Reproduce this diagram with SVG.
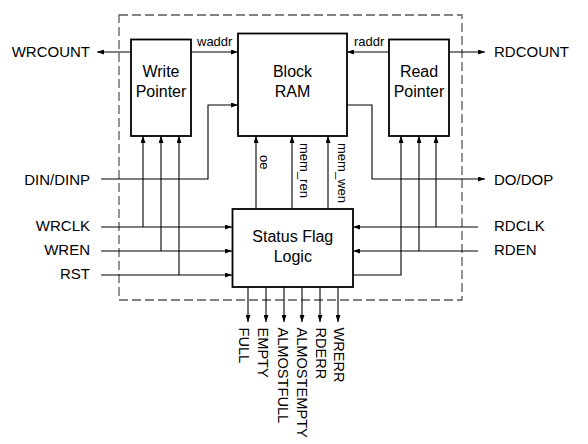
<svg xmlns="http://www.w3.org/2000/svg" width="588" height="444" viewBox="0 0 588 444">
<defs>
<marker id="arr" viewBox="0 0 7 5" refX="7" refY="2.5" markerWidth="7" markerHeight="5" markerUnits="userSpaceOnUse" orient="auto">
<path d="M0,0 L7,2.5 L0,5 z" fill="#000"/>
</marker>
</defs>
<style>
text{font-family:"Liberation Sans",Arial,Helvetica,sans-serif;fill:#000}
.box{fill:#fff;stroke:#000;stroke-width:1.8}
.bl{font-size:16px;text-anchor:middle}
.lbl{font-size:15px}
.end{text-anchor:end}
.sm{font-size:13px}
.out{font-size:14.6px}
.c{fill:none;stroke:#000;stroke-width:1.1}
.a{marker-end:url(#arr)}
.dash{fill:none;stroke:#5a5a5a;stroke-width:1.3;stroke-dasharray:9 4}
</style>
<rect id="boundary" class="dash" x="119" y="15" width="343" height="285"/>
<g id="connectors">
<path class="c a" d="M131,52 H97"/>
<path class="c a" d="M191,52 H238"/>
<path class="c a" d="M101,179 H208 V105 H238"/>
<path class="c a" d="M389,52 H347"/>
<path class="c a" d="M449,52 H485"/>
<path class="c a" d="M347,105 H372 V179 H485"/>
<path class="c a" d="M143,227 V136"/>
<path class="c a" d="M161,251 V136"/>
<path class="c a" d="M179,275 V136"/>
<path class="c a" d="M101,227 H232"/>
<path class="c a" d="M101,251 H232"/>
<path class="c a" d="M101,275 H232"/>
<path class="c a" d="M478,227 H353"/>
<path class="c a" d="M478,251 H353"/>
<path class="c a" d="M436,227 V136"/>
<path class="c a" d="M419,251 V136"/>
<path class="c a" d="M353,275 H401 V136"/>
<path class="c a" d="M256,209 V136"/>
<path class="c a" d="M292,209 V136"/>
<path class="c a" d="M328,209 V136"/>
<path class="c a" d="M248,287 V322"/>
<path class="c a" d="M266,287 V322"/>
<path class="c a" d="M284,287 V322"/>
<path class="c a" d="M302,287 V322"/>
<path class="c a" d="M320,287 V322"/>
<path class="c a" d="M338,287 V322"/>
<text class="sm" x="197" y="46">waddr</text>
<text class="sm" x="354" y="46">raddr</text>
<text class="sm" transform="translate(259.5,155) rotate(90)">oe</text>
<text class="sm" transform="translate(300,143) rotate(90)">mem_ren</text>
<text class="sm" transform="translate(337.5,143) rotate(90)">mem_wen</text>
</g>
<g id="write-pointer">
<rect class="box" x="131" y="39.5" width="60" height="96.5"/>
<text class="bl" x="161" y="77">Write</text>
<text class="bl" x="161" y="97">Pointer</text>
</g>
<g id="block-ram">
<rect class="box" x="238" y="33.5" width="109" height="102.5"/>
<text class="bl" x="292.5" y="77">Block</text>
<text class="bl" x="292.5" y="97">RAM</text>
</g>
<g id="read-pointer">
<rect class="box" x="389" y="39.5" width="60" height="96.5"/>
<text class="bl" x="419" y="77">Read</text>
<text class="bl" x="419" y="97">Pointer</text>
</g>
<g id="status-flag-logic">
<rect class="box" x="232.5" y="209" width="120.5" height="78"/>
<text class="bl" x="292.8" y="242">Status Flag</text>
<text class="bl" x="292.8" y="262">Logic</text>
</g>
<g id="left-signals">
<text class="lbl end" x="90" y="57">WRCOUNT</text>
<text class="lbl end" x="90" y="185">DIN/DINP</text>
<text class="lbl end" x="90" y="231">WRCLK</text>
<text class="lbl end" x="90" y="255">WREN</text>
<text class="lbl end" x="90" y="279">RST</text>
</g>
<g id="right-signals">
<text class="lbl" x="494" y="57">RDCOUNT</text>
<text class="lbl" x="494" y="185">DO/DOP</text>
<text class="lbl" x="494" y="231">RDCLK</text>
<text class="lbl" x="494" y="255">RDEN</text>
</g>
<g id="status-outputs">
<text class="out" transform="translate(239,327.5) rotate(90)">FULL</text>
<text class="out" transform="translate(258.3,327.5) rotate(90)">EMPTY</text>
<text class="out" transform="translate(277.6,327.5) rotate(90)">ALMOSTFULL</text>
<text class="out" transform="translate(296.8,327.5) rotate(90)">ALMOSTEMPTY</text>
<text class="out" transform="translate(316,327.5) rotate(90)">RDERR</text>
<text class="out" transform="translate(334.2,327.5) rotate(90)">WRERR</text>
</g>
</svg>
